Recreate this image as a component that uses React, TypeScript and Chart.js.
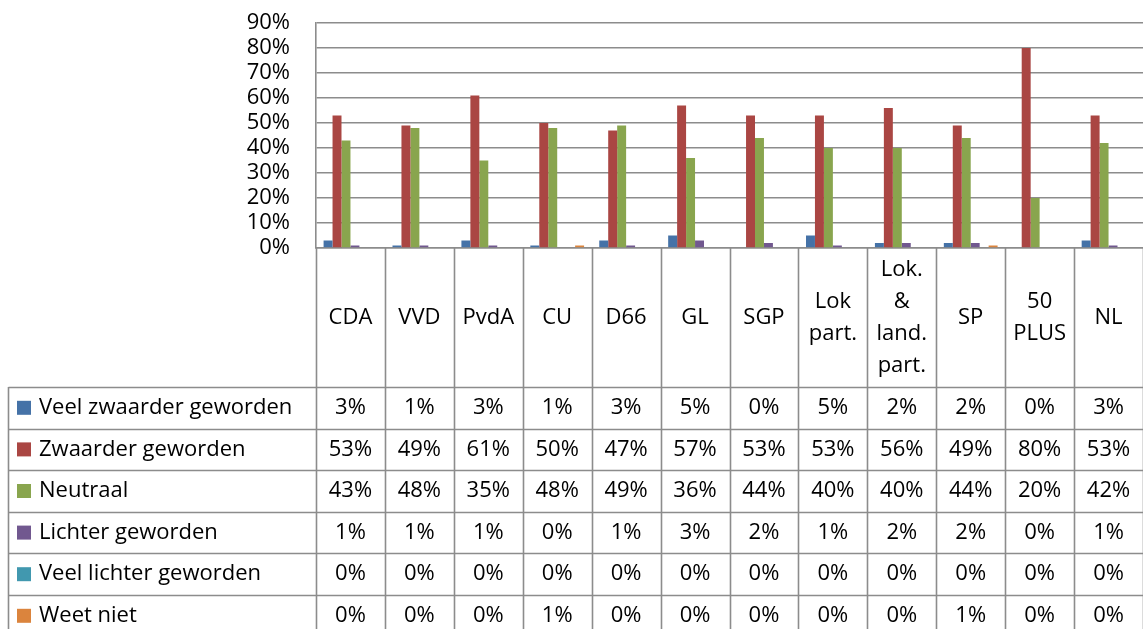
import React, { useEffect, useRef } from "react";
import { Chart, registerables } from "chart.js";

Chart.register(...registerables);

const categoryLines: string[][] = [
  ["CDA"], ["VVD"], ["PvdA"], ["CU"], ["D66"], ["GL"], ["SGP"],
  ["Lok", "part."], ["Lok.", "&", "land.", "part."], ["SP"], ["50", "PLUS"], ["NL"],
];
const categories = categoryLines.map((l) => l.join(" "));

const seriesNames = [
  "Veel zwaarder geworden",
  "Zwaarder geworden",
  "Neutraal",
  "Lichter geworden",
  "Veel lichter geworden",
  "Weet niet",
];
const veelZwaarder = [3, 1, 3, 1, 3, 5, 0, 5, 2, 2, 0, 3];
const zwaarder = [53, 49, 61, 50, 47, 57, 53, 53, 56, 49, 80, 53];
const neutraal = [43, 48, 35, 48, 49, 36, 44, 40, 40, 44, 20, 42];
const lichter = [1, 1, 1, 0, 1, 3, 2, 1, 2, 2, 0, 1];
const veelLichter = [0, 0, 0, 0, 0, 0, 0, 0, 0, 0, 0, 0];
const weetNiet = [0, 0, 0, 1, 0, 0, 0, 0, 0, 1, 0, 0];
const seriesValues = [veelZwaarder, zwaarder, neutraal, lichter, veelLichter, weetNiet];
const seriesColors = ["#4572A7", "#AA4643", "#89A54E", "#71588F", "#4198AF", "#DB843D"];

const yTicks = [0, 10, 20, 30, 40, 50, 60, 70, 80, 90];

const FONT = '"Open Sans", Lato, sans-serif';
const FONT_SIZE = 22;
const GRID = "#8c8c8c";

const tablePlugin = {
  id: "dataTable",
  afterDraw(chart: any) {
    const { ctx, chartArea } = chart;
    const xs = chart.scales.x;
    const n = categories.length;
    const colW = (chartArea.right - chartArea.left) / n;
    const headerTop = chartArea.bottom;
    const headerBottom = 387;
    const rowH = 41.6;
    const tableLeft = 8.5;
    const bottom = chart.height;
    ctx.save();
    ctx.strokeStyle = GRID;
    ctx.lineWidth = 1.6;
    ctx.beginPath();
    for (let i = 0; i <= n; i++) {
      const bx = Math.round(chartArea.left + i * colW) + 0.5;
      ctx.moveTo(bx, headerTop);
      ctx.lineTo(bx, bottom);
    }
    ctx.moveTo(tableLeft, headerBottom);
    ctx.lineTo(tableLeft, bottom);
    for (let r = 0; r <= seriesNames.length; r++) {
      const y = Math.round(headerBottom + r * rowH) + 0.5;
      ctx.moveTo(tableLeft, y);
      ctx.lineTo(chartArea.right, y);
    }
    ctx.stroke();

    ctx.fillStyle = "#000";
    ctx.font = `${FONT_SIZE}px ${FONT}`;
    ctx.textAlign = "center";
    ctx.textBaseline = "middle";
    const headerMid = (headerTop + headerBottom) / 2;
    const lh = 32;
    categoryLines.forEach((lines, i) => {
      const cx = xs.getPixelForValue(i);
      const start = headerMid - ((lines.length - 1) * lh) / 2;
      lines.forEach((t, k) => ctx.fillText(t, cx, start + k * lh));
    });

    seriesNames.forEach((name, r) => {
      const cy = headerBottom + r * rowH + rowH / 2;
      ctx.fillStyle = seriesColors[r];
      ctx.fillRect(17, cy - 7, 14, 14);
      ctx.fillStyle = "#000";
      ctx.textAlign = "left";
      ctx.fillText(name, 39, cy);
      ctx.textAlign = "center";
      seriesValues[r].forEach((v, i) => {
        ctx.fillText(`${Math.round(v)}%`, xs.getPixelForValue(i), cy);
      });
    });
    ctx.restore();
  },
};

export default function App() {
  const ref = useRef<HTMLCanvasElement>(null);
  useEffect(() => {
    if (!ref.current) return;
    const chart = new Chart(ref.current, {
      type: "bar",
      data: {
        labels: categories,
        datasets: seriesNames.map((name, i) => ({
          label: name,
          data: seriesValues[i],
          backgroundColor: seriesColors[i],
          borderWidth: 0,
          categoryPercentage: 0.78,
          barPercentage: 1,
        })),
      },
      options: {
        animation: false,
        responsive: false,
        layout: { padding: { top: 23, left: 0, right: 0, bottom: 0 } },
        plugins: { legend: { display: false }, tooltip: { enabled: false } },
        scales: {
          x: {
            grid: { display: false },
            border: { display: true, color: GRID, width: 1.6 },
            ticks: { display: false },
            afterFit: (s: any) => { s.height = 381; s.paddingLeft = 0; s.paddingRight = 0; },
          },
          y: {
            min: 0,
            max: 90,
            afterBuildTicks: (s: any) => { s.ticks = yTicks.map((v) => ({ value: v })); },
            grid: { color: GRID, lineWidth: 1.6, drawTicks: false },
            border: { display: true, color: GRID, width: 1.6 },
            ticks: {
              autoSkip: false,
              padding: 26,
              color: "#000",
              font: { family: FONT, size: FONT_SIZE, lineHeight: 1 },
              callback: (v: any) => `${v}%`,
            },
            afterFit: (s: any) => { s.width = 316; s.paddingTop = 0; s.paddingBottom = 0; },
          },
        },
      },
      plugins: [tablePlugin],
    });
    return () => chart.destroy();
  }, []);
  return (
    <div style={{ position: "fixed", left: 0, top: 0, width: 1143, height: 629, overflow: "hidden", background: "#fff" }}>
      <canvas ref={ref} width={1143} height={629} style={{ display: "block" }} />
    </div>
  );
}
